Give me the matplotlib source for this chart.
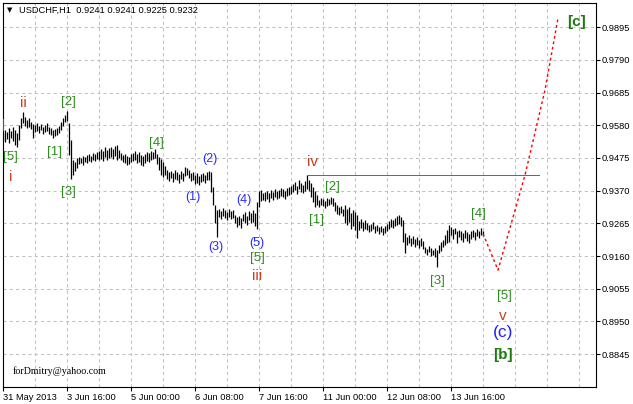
import matplotlib
matplotlib.use("Agg")
import matplotlib.pyplot as plt

# USDCHF H1 bars (high / low), one value per hourly bar
highs = [
    0.9555, 0.9565, 0.9558, 0.9571, 0.9561, 0.9574, 0.9565, 0.9555,
    0.9581, 0.9603, 0.9622,
    0.9606, 0.9597, 0.9603, 0.9590,
    0.9584,
    0.9581, 0.9587, 0.9578, 0.9584, 0.9575, 0.9581, 0.9587, 0.9575,
    0.9571, 0.9565, 0.9568, 0.9571,
    0.9578, 0.9590, 0.9603, 0.9613,
    0.9626,
    0.9587, 0.9533,
    0.9468, 0.9462, 0.9475,
    0.9478, 0.9475, 0.9481, 0.9478,
    0.9485, 0.9488, 0.9481, 0.9491, 0.9488, 0.9494, 0.9497,
    0.9504, 0.9497, 0.9510, 0.9501, 0.9507,
    0.9510, 0.9504, 0.9513, 0.9517, 0.9501,
    0.9491, 0.9485, 0.9488, 0.9481, 0.9478, 0.9488,
    0.9491, 0.9497, 0.9488, 0.9494, 0.9485, 0.9481, 0.9488, 0.9494, 0.9491, 0.9497, 0.9494, 0.9504,
    0.9488, 0.9478, 0.9471,
    0.9462, 0.9449,
    0.9436, 0.9430, 0.9433, 0.9426, 0.9436, 0.9430, 0.9423, 0.9433, 0.9426,
    0.9446, 0.9443, 0.9436,
    0.9426, 0.9430, 0.9420, 0.9426, 0.9417, 0.9423, 0.9426, 0.9420, 0.9430,
    0.9433,
    0.9430, 0.9382, 0.9324, 0.9308,
    0.9311, 0.9305, 0.9314, 0.9308, 0.9302, 0.9311, 0.9305, 0.9308,
    0.9292, 0.9285, 0.9289, 0.9282,
    0.9295, 0.9302, 0.9289, 0.9305, 0.9298, 0.9308,
    0.9298, 0.9334,
    0.9369, 0.9372, 0.9363,
    0.9366, 0.9369, 0.9363, 0.9372, 0.9366, 0.9375, 0.9369, 0.9372, 0.9379, 0.9375, 0.9369, 0.9379, 0.9382, 0.9385,
    0.9391, 0.9398, 0.9385, 0.9404, 0.9395, 0.9388, 0.9401,
    0.9420,
    0.9404, 0.9395, 0.9382, 0.9369, 0.9356,
    0.9340, 0.9346, 0.9343, 0.9337, 0.9346, 0.9343, 0.9350, 0.9346,
    0.9334, 0.9324, 0.9318, 0.9321, 0.9311,
    0.9324, 0.9311, 0.9318, 0.9298, 0.9308, 0.9302,
    0.9292,
    0.9273, 0.9279, 0.9269, 0.9276,
    0.9266, 0.9260, 0.9263, 0.9269, 0.9257, 0.9260, 0.9253, 0.9257, 0.9250, 0.9257, 0.9263,
    0.9273, 0.9279, 0.9276, 0.9282, 0.9289, 0.9292, 0.9285,
    0.9276, 0.9234,
    0.9221, 0.9228, 0.9218, 0.9224, 0.9215, 0.9221, 0.9212, 0.9218, 0.9208,
    0.9189, 0.9183, 0.9192, 0.9186, 0.9180, 0.9186,
    0.9180,
    0.9196, 0.9205, 0.9212,
    0.9228, 0.9244, 0.9260,
    0.9253, 0.9247, 0.9250, 0.9240, 0.9244,
    0.9240, 0.9234, 0.9244, 0.9237, 0.9231, 0.9240, 0.9244, 0.9237, 0.9247, 0.9240, 0.9250,
    0.9241,
]
lows = [
    0.9533, 0.9526, 0.9536, 0.9523, 0.9539, 0.9529, 0.9517, 0.9510,
    0.9533, 0.9571, 0.9587,
    0.9578, 0.9571, 0.9575, 0.9568,
    0.9539,
    0.9558, 0.9562, 0.9555, 0.9565, 0.9552, 0.9558, 0.9562, 0.9552,
    0.9549, 0.9539, 0.9546, 0.9549,
    0.9555, 0.9565, 0.9578, 0.9590,
    0.9594,
    0.9485, 0.9408,
    0.9420, 0.9433, 0.9443,
    0.9455, 0.9459, 0.9452, 0.9462,
    0.9459, 0.9465, 0.9462, 0.9468, 0.9465, 0.9471, 0.9468,
    0.9471, 0.9465, 0.9478, 0.9468, 0.9475,
    0.9478, 0.9471, 0.9481, 0.9468, 0.9475,
    0.9468, 0.9462, 0.9459, 0.9452, 0.9455, 0.9462,
    0.9465, 0.9468, 0.9459, 0.9462, 0.9452, 0.9449, 0.9459, 0.9465, 0.9462, 0.9468, 0.9471, 0.9475,
    0.9455, 0.9436, 0.9420,
    0.9414, 0.9420,
    0.9408, 0.9401, 0.9411, 0.9398, 0.9408, 0.9404, 0.9395, 0.9408, 0.9401,
    0.9417, 0.9420, 0.9411,
    0.9401, 0.9404, 0.9391, 0.9395, 0.9388, 0.9398, 0.9401, 0.9395, 0.9404,
    0.9404,
    0.9366, 0.9324, 0.9266, 0.9221,
    0.9285, 0.9279, 0.9289, 0.9282, 0.9276, 0.9285, 0.9279, 0.9282,
    0.9266, 0.9253, 0.9260, 0.9250,
    0.9273, 0.9266, 0.9260, 0.9276, 0.9266, 0.9269,
    0.9256, 0.9247,
    0.9318, 0.9337, 0.9340,
    0.9337, 0.9343, 0.9334, 0.9346, 0.9340, 0.9350, 0.9343, 0.9346, 0.9353, 0.9350, 0.9343, 0.9353, 0.9356, 0.9359,
    0.9366, 0.9372, 0.9359, 0.9375, 0.9366, 0.9362, 0.9369,
    0.9375,
    0.9369, 0.9350, 0.9334, 0.9318, 0.9324,
    0.9318, 0.9324, 0.9321, 0.9314, 0.9321, 0.9324, 0.9327, 0.9321,
    0.9305, 0.9295, 0.9292, 0.9298, 0.9289,
    0.9266, 0.9260, 0.9269, 0.9247, 0.9256, 0.9244,
    0.9218,
    0.9244, 0.9250, 0.9240, 0.9247,
    0.9244, 0.9237, 0.9240, 0.9247, 0.9234, 0.9240, 0.9231, 0.9237, 0.9228, 0.9234, 0.9240,
    0.9247, 0.9253, 0.9250, 0.9257, 0.9260, 0.9263, 0.9256,
    0.9205, 0.9170,
    0.9196, 0.9202, 0.9192, 0.9199, 0.9189, 0.9196, 0.9186, 0.9192, 0.9183,
    0.9170, 0.9164, 0.9173, 0.9160, 0.9164, 0.9157,
    0.9125,
    0.9170, 0.9176, 0.9189,
    0.9196, 0.9202, 0.9205,
    0.9228, 0.9215, 0.9231, 0.9202, 0.9221,
    0.9212, 0.9205, 0.9218, 0.9208, 0.9202, 0.9215, 0.9221, 0.9212, 0.9224, 0.9218, 0.9228,
    0.9225,
]
assert len(highs) == len(lows)
bars = list(range(len(highs)))

# x axis labels every 32 bars
date_labels = ['31 May 2013', '3 Jun 16:00', '5 Jun 00:00', '6 Jun 08:00',
               '7 Jun 16:00', '11 Jun 00:00', '12 Jun 08:00', '13 Jun 16:00']
date_bars = [0, 32, 64, 96, 128, 160, 192, 224]

price_ticks = [0.9895, 0.9790, 0.9685, 0.9580, 0.9475, 0.9370,
               0.9265, 0.9160, 0.9055, 0.8950, 0.8845]

# projected path (red dotted) and the wave-iv level (magenta)
proj_bars = [240, 247.5, 261, 271, 277.5]
proj_prices = [0.9232, 0.9115, 0.9420, 0.9693, 0.9924]
level_bars = [152, 268]
level_price = 0.9420

# wave labels: text, bar, price, kind
labels = [
    ('[4]', -3, 0.9581, 'sq'),
    ('ii', 10, 0.9652, 'rom'),
    ('[5]', 3.5, 0.9478, 'sq'),
    ('i', 4, 0.9414, 'rom'),
    ('[2]', 32.5, 0.9655, 'sq'),
    ('[1]', 25.5, 0.9494, 'sq'),
    ('[3]', 32.5, 0.9366, 'sq'),
    ('[4]', 76.5, 0.9523, 'sq'),
    ('(1)', 95, 0.9350, 'par'),
    ('(2)', 103.5, 0.9472, 'par'),
    ('(3)', 106.5, 0.9189, 'par'),
    ('(4)', 120.5, 0.9340, 'par'),
    ('(5)', 127, 0.9202, 'par'),
    ('[5]', 127, 0.9154, 'sq'),
    ('iii', 127, 0.9096, 'rom'),
    ('iv', 154.5, 0.9462, 'rom'),
    ('[1]', 157, 0.9276, 'sq'),
    ('[2]', 164.5, 0.9382, 'sq'),
    ('[3]', 217, 0.9080, 'sq'),
    ('[4]', 237.5, 0.9295, 'sq'),
    ('[5]', 250.5, 0.9032, 'sq'),
    ('v', 250, 0.8968, 'rom'),
    ('(c)', 250, 0.8916, 'bigpar'),
    ('[b]', 250, 0.8842, 'bigsq'),
    ('[c]', 287, 0.9912, 'bigsq'),
]
styles = {
    'sq': dict(color='#2e8b1e', fontsize=9.5),
    'rom': dict(color='#c8401e', fontsize=11),
    'par': dict(color='#2a2aff', fontsize=9),
    'bigpar': dict(color='#2020ff', fontsize=12.5),
    'bigsq': dict(color='#1f7a12', fontsize=11, fontweight='bold'),
}

W, H = 633, 404
fig = plt.figure(figsize=(W / 100, H / 100), dpi=100)
ax = fig.add_axes([3 / W, 17 / H, 593 / W, 384 / H])
ax.set_xlim(0, 296.5)
ax.set_ylim(0.87397, 0.99724)

grid_kw = dict(color='#c0c0c0', linestyle=(0, (3, 3)), linewidth=0.75, zorder=0)
for p in price_ticks:
    ax.axhline(p, **grid_kw)
for b in range(16, 297, 16):
    ax.axvline(b, **grid_kw)

ax.vlines(bars, lows, highs, color='black', linewidth=0.9, zorder=3)
ax.plot(proj_bars, proj_prices, color='red', linestyle=(0, (2, 2)), linewidth=1.0, zorder=3)
ax.plot(level_bars, [level_price, level_price], color='#ff00ff', linewidth=0.72,
        antialiased=False, zorder=3)

for txt, b, p, kind in labels:
    ax.text(b, p, txt, ha='center', va='center', family='Liberation Sans',
            clip_on=True, zorder=4, **styles[kind])

ax.yaxis.tick_right()
ax.set_yticks(price_ticks)
ax.set_yticklabels([f'{p:.4f}' for p in price_ticks])
ax.set_xticks(date_bars)
ax.set_xticklabels(date_labels, ha='left')
ax.tick_params(axis='both', direction='out', length=3, width=0.8, color='black',
               labelsize=6.7, pad=1)
for lab in ax.get_xticklabels() + ax.get_yticklabels():
    lab.set_family('Liberation Sans')
for s in ax.spines.values():
    s.set_linewidth(0.8)
    s.set_color('black')

fig.text(7 / W, 1 - 10 / H, '\u25bc', fontsize=5, va='center', ha='left', family='DejaVu Sans')
fig.text(19 / W, 1 - 10 / H, 'USDCHF,H1  0.9241 0.9241 0.9225 0.9232', fontsize=6.7,
         va='center', ha='left', family='Liberation Sans')
ax.text(10 / 593, 1 - (371 - 3) / 384, 'forDmitry@yahoo.com', transform=ax.transAxes,
        fontsize=7.2, family='Liberation Serif', va='center', ha='left')

fig.savefig('out.png', dpi=100)
